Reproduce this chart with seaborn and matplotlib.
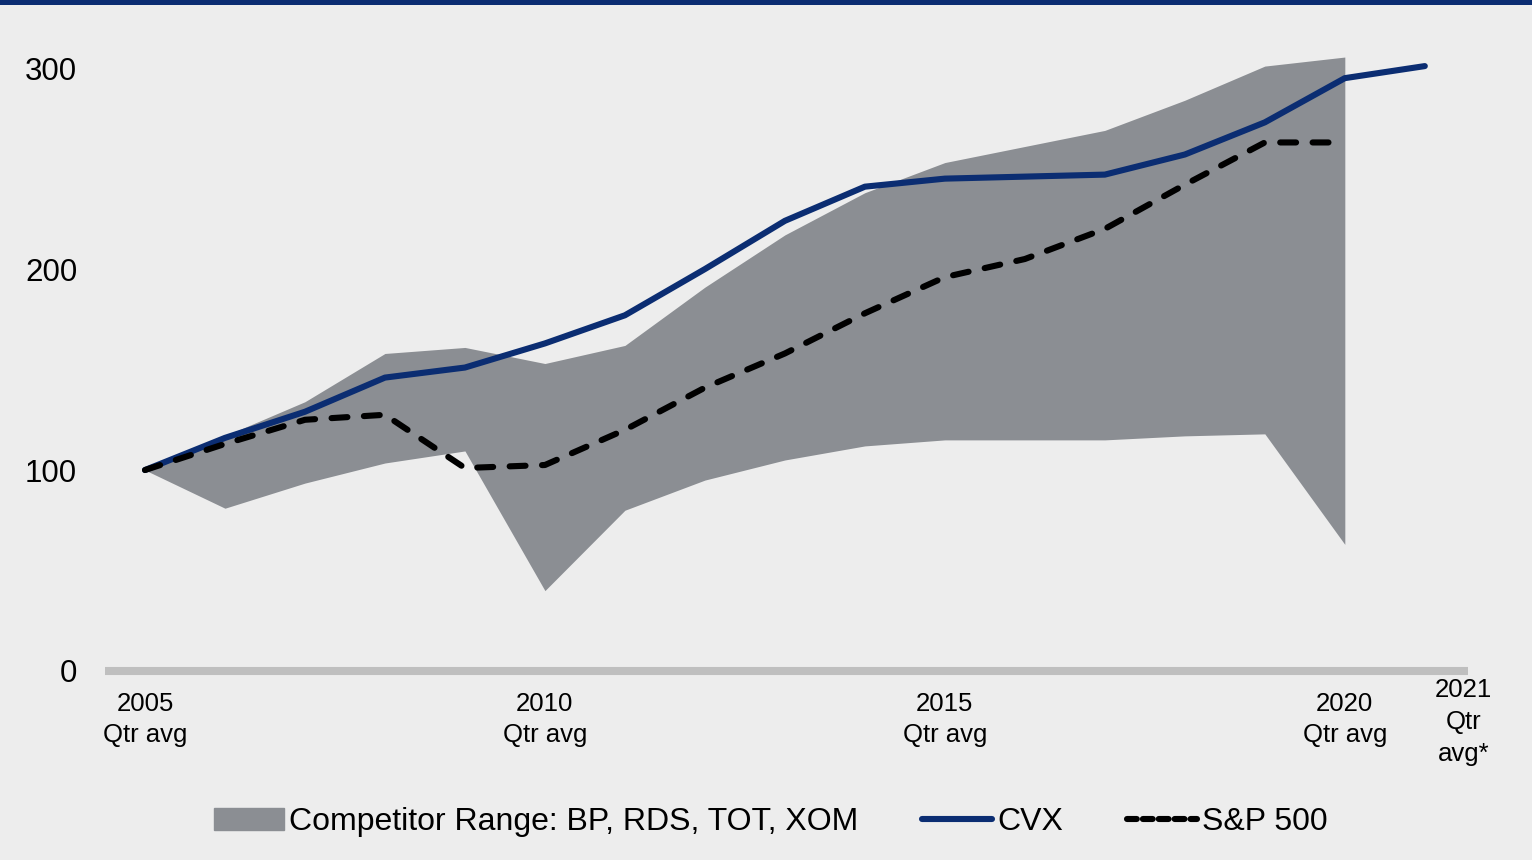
import numpy as np
import pandas as pd
import matplotlib
matplotlib.use('Agg')
import matplotlib.pyplot as plt
import matplotlib.transforms as mtransforms
from matplotlib.patches import Patch
from matplotlib.lines import Line2D
import seaborn as sns

# data (indexed, 2005 = 100)
years = list(range(2005, 2022))
cvx = [100, 116, 129, 146, 151, 163, 177, 200, 224, 241, 245, 246, 247, 257, 273, 295, 301]
sp500_years = list(range(2005, 2021))
sp500 = [100, 113, 125, 127.5, 101, 102.5, 120, 141, 158, 178, 196, 205, 220, 242, 263, 263]
range_years = list(range(2005, 2021))
comp_high = [100, 117, 134, 158, 161, 153, 162, 191, 217, 238, 253, 261, 269, 284, 301, 305.5]
comp_low = [100, 81, 93.5, 103.5, 109.5, 40, 80, 95, 105, 112, 115, 115, 115, 117, 118, 63]

tick_years = [2005, 2010, 2015, 2020]
tick_labels = ['2005\nQtr avg', '2010\nQtr avg', '2015\nQtr avg', '2020\nQtr avg']
last_label = '2021\nQtr\navg*'
legend_labels = ['Competitor Range: BP, RDS, TOT, XOM', 'CVX', 'S&P 500']

bg = '#EDEDED'
navy = '#0B2D72'
grey_fill = '#8B8E93'

sns.set_style('white')
plt.rcParams['font.family'] = ['Liberation Sans', 'DejaVu Sans']
plt.rcParams['text.color'] = 'black'

fig = plt.figure(figsize=(15.32, 8.6), dpi=100, facecolor=bg)
ax = fig.add_axes([105 / 1532, 1 - 671 / 860, (1468 - 105) / 1532, (671 - 48) / 860])
ax.set_facecolor(bg)

# top navy rule
fig.add_artist(plt.Rectangle((0, 1 - 5 / 860), 1, 5 / 860, transform=fig.transFigure,
                             color=navy, lw=0))

ax.fill_between(range_years, comp_low, comp_high, color=grey_fill, lw=0, zorder=1)

df_cvx = pd.DataFrame({'year': years, 'value': cvx})
df_sp = pd.DataFrame({'year': sp500_years, 'value': sp500})
sns.lineplot(data=df_cvx, x='year', y='value', ax=ax, color=navy, lw=4.4,
             solid_capstyle='round', zorder=3)
sns.lineplot(data=df_sp, x='year', y='value', ax=ax, color='black', lw=4.4,
             linestyle=(0, (2.6, 2.7)), dash_capstyle='round', zorder=4)

ax.axhline(0, color='#BFBFBF', lw=5.8, clip_on=False, solid_capstyle='butt', zorder=2)

ax.set_xlim(2004.5, 2021.54)
ax.set_ylim(0, 310)
ax.set_yticks([0, 100, 200, 300])
ax.set_yticklabels(['0', '100', '200', '300'], fontsize=22.5)
ax.set_xticks(tick_years)
ax.set_xticklabels(tick_labels, fontsize=18.5, linespacing=1.4)
ax.tick_params(axis='both', length=0, colors='black')
ax.tick_params(axis='x', pad=15)
ax.tick_params(axis='y', pad=20)
ax.set_xlabel('')
ax.set_ylabel('')
for s in ax.spines.values():
    s.set_visible(False)

trans = mtransforms.blended_transform_factory(ax.transData, ax.transAxes)
ax.text(2021.48, -0.012, last_label, transform=trans, ha='center', va='top',
        fontsize=18.5, linespacing=1.4)

handles = [Patch(color=grey_fill),
           Line2D([], [], color=navy, lw=4.4),
           Line2D([], [], color='black', lw=4.4, linestyle=(0, (1.6, 1.0)),
                  dash_capstyle='round')]
fig.legend(handles, legend_labels, loc='center', bbox_to_anchor=(0.503, 1 - 822 / 860),
           ncol=3, frameon=False, fontsize=23, handlelength=2.2, handletextpad=0.15,
           columnspacing=2.0)

fig.savefig('out.png', dpi=100, facecolor=bg)
